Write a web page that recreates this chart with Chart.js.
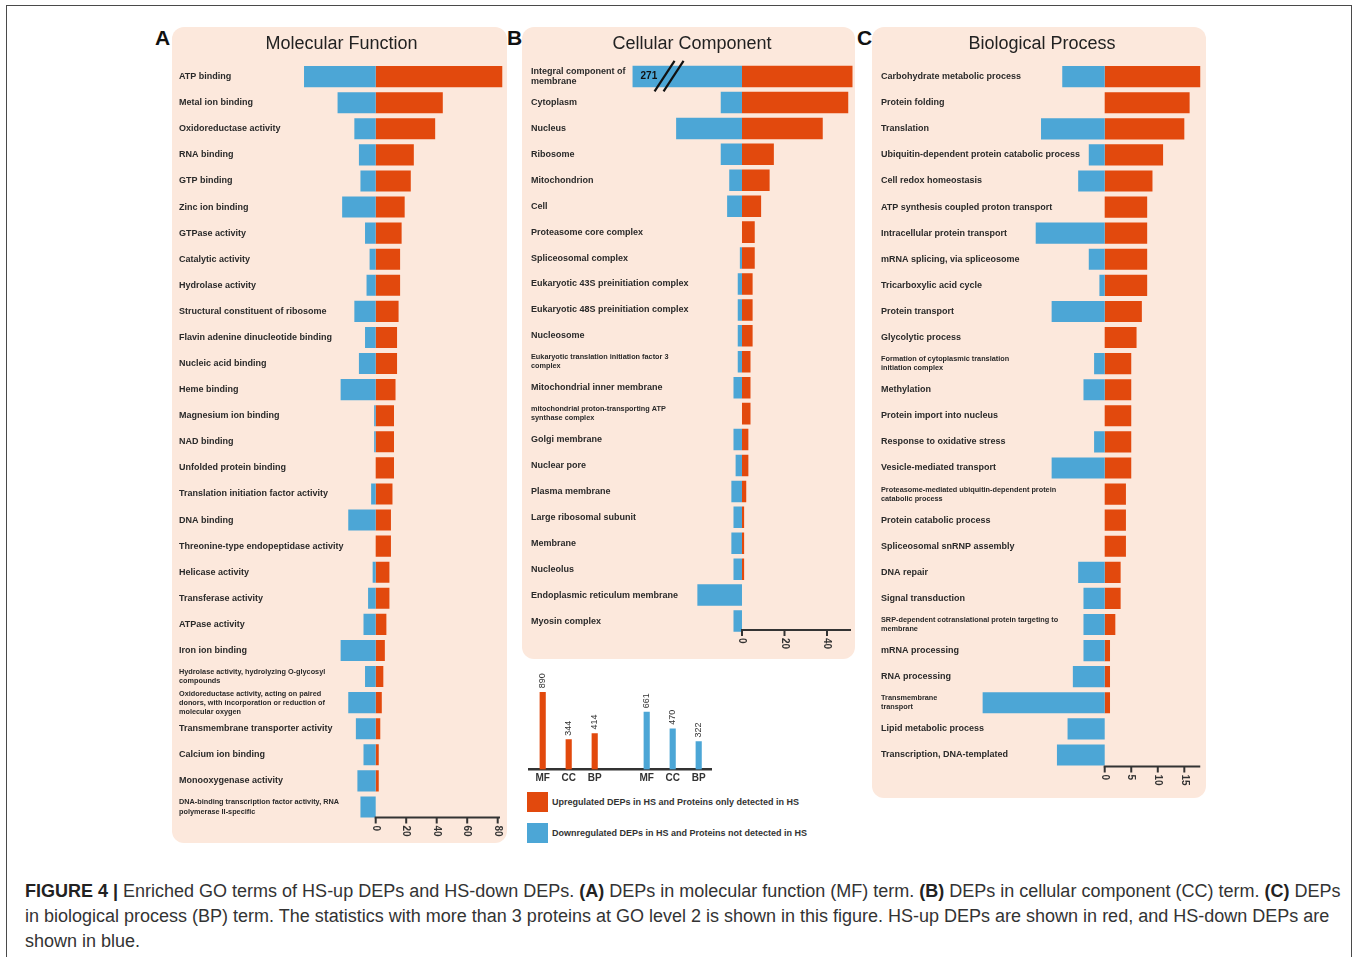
<!DOCTYPE html>
<html>
<head>
<meta charset="utf-8">
<title>Enriched GO terms of HS-up and HS-down DEPs</title>
<script src="https://cdn.jsdelivr.net/npm/chart.js@4/dist/chart.umd.min.js"></script>
<style>
  html, body { margin:0; padding:0; background:#fff; }
  body { position:relative; width:1357px; height:957px; overflow:hidden; font-family:"Liberation Sans", Arial, Helvetica, sans-serif; color:#333; }
  .frame { position:absolute; left:6px; top:5px; width:1346px; height:1000px; border:1.5px solid #4a4a4a; box-sizing:border-box; }
  .panel { position:absolute; background:#fce8dc; border-radius:12px; }
  .panel canvas { position:absolute; left:0; top:0; }
  .letter { position:absolute; font-size:21px; font-weight:bold; line-height:1; color:#111; }
  .legend-row { position:absolute; left:527px; height:20px; display:flex; align-items:center; font-size:9px; font-weight:bold; color:#333; white-space:nowrap; }
  .legend-row .sw { width:21px; height:20px; margin-right:4px; flex:none; }
  .caption { position:absolute; left:25px; font-size:18px; line-height:25px; color:#333; white-space:nowrap; }
  .caption b { color:#222; }
</style>
</head>
<body>
<div class="frame"></div>

<div class="letter" style="left:155px; top:27px;">A</div>
<div class="letter" style="left:507px; top:27px;">B</div>
<div class="letter" style="left:857px; top:27px;">C</div>

<div class="panel" style="left:172px; top:27px; width:335px; height:816px;">
  <canvas id="mfChart" width="335" height="816"></canvas>
</div>
<div class="panel" style="left:522px; top:27px; width:333px; height:632px;">
  <canvas id="ccChart" width="333" height="632"></canvas>
</div>
<div class="panel" style="left:872px; top:27px; width:334px; height:771px;">
  <canvas id="bpChart" width="334" height="771"></canvas>
</div>

<canvas id="totalsChart" width="200" height="125" style="position:absolute; left:520px; top:665px;"></canvas>

<div class="legend-row" style="top:792px;"><span class="sw" style="background:#e2490d;"></span>Upregulated DEPs in HS and Proteins only detected in HS</div>
<div class="legend-row" style="top:823px;"><span class="sw" style="background:#4ca6d6;"></span>Downregulated DEPs in HS and Proteins not detected in HS</div>

<div class="caption" style="top:879px;"><b>FIGURE 4 |</b> Enriched GO terms of HS-up DEPs and HS-down DEPs. <b>(A)</b> DEPs in molecular function (MF) term. <b>(B)</b> DEPs in cellular component (CC) term. <b>(C)</b> DEPs</div>
<div class="caption" style="top:904px;">in biological process (BP) term. The statistics with more than 3 proteins at GO level 2 is shown in this figure. HS-up DEPs are shown in red, and HS-down DEPs are</div>
<div class="caption" style="top:929px;">shown in blue.</div>

<script>
const RED = '#e2490d';
const BLUE = '#4ca6d6';
const FONT = '"Liberation Sans", Arial, Helvetica, sans-serif';
Chart.defaults.font.family = FONT;

// ---- Molecular function (MF) terms: counts of up- and down-regulated DEPs ----
const mfTerms = [
  'ATP binding', 'Metal ion binding', 'Oxidoreductase activity', 'RNA binding', 'GTP binding',
  'Zinc ion binding', 'GTPase activity', 'Catalytic activity', 'Hydrolase activity',
  'Structural constituent of ribosome', 'Flavin adenine dinucleotide binding', 'Nucleic acid binding',
  'Heme binding', 'Magnesium ion binding', 'NAD binding', 'Unfolded protein binding',
  'Translation initiation factor activity', 'DNA binding', 'Threonine-type endopeptidase activity',
  'Helicase activity', 'Transferase activity', 'ATPase activity', 'Iron ion binding',
  ['Hydrolase activity, hydrolyzing O-glycosyl', 'compounds'],
  ['Oxidoreductase activity, acting on paired', 'donors, with incorporation or reduction of', 'molecular oxygen'],
  'Transmembrane transporter activity', 'Calcium ion binding', 'Monooxygenase activity',
  ['DNA-binding transcription factor activity, RNA', 'polymerase II-specific']
];
const mfUp   = [83, 44, 39, 25, 23, 19, 17, 16, 16, 15, 14, 14, 13, 12, 12, 12, 11, 10, 10, 9, 9, 7, 6, 5, 4, 3, 2, 2, 0];
const mfDown = [47, 25, 14, 11, 10, 22, 7, 4, 6, 14, 7, 11, 23, 1, 1, 0, 3, 18, 0, 2, 5, 8, 23, 7, 18, 13, 8, 12, 10];
const mfTicks = [0, 20, 40, 60, 80];

// ---- Cellular component (CC) terms ----
const ccTerms = [
  ['Integral component of', 'membrane'], 'Cytoplasm', 'Nucleus', 'Ribosome', 'Mitochondrion', 'Cell',
  'Proteasome core complex', 'Spliceosomal complex', 'Eukaryotic 43S preinitiation complex',
  'Eukaryotic 48S preinitiation complex', 'Nucleosome',
  ['Eukaryotic translation initiation factor 3', 'complex'],
  'Mitochondrial inner membrane',
  ['mitochondrial proton-transporting ATP', 'synthase complex'],
  'Golgi membrane', 'Nuclear pore', 'Plasma membrane', 'Large ribosomal subunit', 'Membrane',
  'Nucleolus', 'Endoplasmic reticulum membrane', 'Myosin complex'
];
const ccUp   = [52, 50, 38, 15, 13, 9, 6, 6, 5, 5, 5, 4, 4, 4, 3, 3, 2, 1, 1, 1, 0, 0];
const ccDown = [271, 10, 31, 10, 6, 7, 0, 1, 2, 2, 2, 2, 4, 0, 4, 3, 5, 4, 5, 4, 21, 4];
const ccTicks = [0, 20, 40];
const ccBreakAt = 51.5;   // longer bars are cut here and marked with a break

// ---- Biological process (BP) terms ----
const bpTerms = [
  'Carbohydrate metabolic process', 'Protein folding', 'Translation',
  'Ubiquitin-dependent protein catabolic process', 'Cell redox homeostasis',
  'ATP synthesis coupled proton transport', 'Intracellular protein transport',
  'mRNA splicing, via spliceosome', 'Tricarboxylic acid cycle', 'Protein transport',
  'Glycolytic process', ['Formation of cytoplasmic translation', 'initiation complex'],
  'Methylation', 'Protein import into nucleus', 'Response to oxidative stress',
  'Vesicle-mediated transport',
  ['Proteasome-mediated ubiquitin-dependent protein', 'catabolic process'],
  'Protein catabolic process', 'Spliceosomal snRNP assembly', 'DNA repair', 'Signal transduction',
  ['SRP-dependent cotranslational protein targeting to', 'membrane'],
  'mRNA processing', 'RNA processing', ['Transmembrane', 'transport'],
  'Lipid metabolic process', 'Transcription, DNA-templated'
];
const bpUp   = [18, 16, 15, 11, 9, 8, 8, 8, 8, 7, 6, 5, 5, 5, 5, 5, 4, 4, 4, 3, 3, 2, 1, 1, 1, 0, 0];
const bpDown = [8, 0, 12, 3, 5, 0, 13, 3, 1, 10, 0, 2, 4, 0, 2, 10, 0, 0, 0, 5, 4, 4, 4, 6, 23, 7, 9];
const bpTicks = [0, 5, 10, 15];

// ---- Totals of enriched DEPs per ontology ----
const totalGroups = ['MF', 'CC', 'BP'];
const upTotals   = [890, 344, 414];
const downTotals = [661, 470, 322];

// Value axis drawn only on the positive side, with rotated tick labels
const valueAxisPlugin = {
  id: 'valueAxis',
  afterDraw(chart, args, opts) {
    const xs = chart.scales.x;
    const ctx = chart.ctx;
    const y0 = chart.chartArea.bottom - opts.offset;
    ctx.save();
    ctx.strokeStyle = '#333';
    ctx.lineWidth = 2;
    ctx.beginPath();
    ctx.moveTo(xs.getPixelForValue(0) - 1, y0);
    ctx.lineTo(xs.getPixelForValue(opts.end), y0);
    ctx.stroke();
    ctx.font = 'bold 10px ' + FONT;
    ctx.fillStyle = '#333';
    ctx.textAlign = 'left';
    ctx.textBaseline = 'middle';
    opts.ticks.forEach(v => {
      const x = xs.getPixelForValue(v);
      ctx.beginPath();
      ctx.moveTo(x, y0);
      ctx.lineTo(x, y0 + 6);
      ctx.stroke();
      ctx.save();
      ctx.translate(x, y0 + 8);
      ctx.rotate(Math.PI / 2);
      ctx.fillText(String(v), 0, 0);
      ctx.restore();
    });
    ctx.restore();
  }
};

// Break marks and value for a bar that runs past the axis
const axisBreakPlugin = {
  id: 'axisBreak',
  afterDatasetsDraw(chart, args, opts) {
    const el = chart.getDatasetMeta(0).data[opts.index];
    if (!el) return;
    const ctx = chart.ctx;
    const left = Math.min(el.x, el.base);
    const top = el.y - el.height / 2;
    const bottom = el.y + el.height / 2;
    ctx.save();
    ctx.fillStyle = '#111';
    ctx.font = 'bold 10px ' + FONT;
    ctx.textAlign = 'left';
    ctx.textBaseline = 'middle';
    ctx.fillText(String(opts.value), left + 8, el.y);
    ctx.strokeStyle = '#111';
    ctx.lineWidth = 2.2;
    [22, 31].forEach(dx => {
      ctx.beginPath();
      ctx.moveTo(left + dx, bottom + 4);
      ctx.lineTo(left + dx + 20, top - 5);
      ctx.stroke();
    });
    ctx.restore();
  }
};

function makeGoChart(id, cfg) {
  const smallFont = { family: FONT, size: 7.3, weight: 'bold', lineHeight: 1.25 };
  const labelFont = { family: FONT, size: 9, weight: 'bold', lineHeight: 1.2 };
  const plugins = [valueAxisPlugin].concat(cfg.extraPlugins || []);
  return new Chart(document.getElementById(id), {
    type: 'bar',
    data: {
      labels: cfg.terms,
      datasets: [
        { label: 'Down', data: cfg.down, backgroundColor: BLUE, borderWidth: 0 },
        { label: 'Up', data: cfg.up, backgroundColor: RED, borderWidth: 0 }
      ]
    },
    options: {
      indexAxis: 'y',
      responsive: false,
      animation: false,
      datasets: { bar: { barPercentage: cfg.barPct, categoryPercentage: 1 } },
      layout: { padding: cfg.pad },
      plugins: {
        legend: { display: false },
        tooltip: { enabled: false },
        title: {
          display: true, text: cfg.title, color: '#222',
          font: { family: FONT, size: 18, weight: 'normal' },
          padding: { top: 6, bottom: 9 }
        },
        valueAxis: cfg.axis,
        axisBreak: cfg.axisBreak || {}
      },
      scales: {
        x: { display: false, stacked: true, min: cfg.min, max: cfg.max },
        y: {
          stacked: true,
          grid: { display: false, drawTicks: false },
          border: { display: false },
          ticks: {
            mirror: true, padding: 0, autoSkip: false, color: '#2a2a2a',
            font: c => (cfg.small.includes(c.index) ? smallFont : labelFont)
          }
        }
      }
    },
    plugins
  });
}

makeGoChart('mfChart', {
  title: 'Molecular Function',
  terms: mfTerms, up: mfUp, down: mfDown.map(v => -v),
  min: -128.98, max: 84.13, barPct: 0.81,
  pad: { left: 7, right: 3, top: 0, bottom: 23 },
  small: [23, 24, 28],
  axis: { ticks: mfTicks, end: 81.5, offset: 2.5 }
});

makeGoChart('ccChart', {
  title: 'Cellular Component',
  terms: ccTerms, up: ccUp, down: ccDown.map(v => -Math.min(v, ccBreakAt)),
  min: -99.29, max: 52.24, barPct: 0.83,
  pad: { left: 9, right: 2, top: 0, bottom: 25 },
  small: [11, 13],
  axis: { ticks: ccTicks, end: 51.3, offset: 4 },
  axisBreak: { index: 0, value: ccDown[0] },
  extraPlugins: [axisBreakPlugin]
});

makeGoChart('bpChart', {
  title: 'Biological Process',
  terms: bpTerms, up: bpUp, down: bpDown.map(v => -v),
  min: -42.15, max: 18.52, barPct: 0.81,
  pad: { left: 9, right: 3, top: 0, bottom: 30 },
  small: [11, 16, 21, 24],
  axis: { ticks: bpTicks, end: 18, offset: 1.5 }
});

// Rotated count labels above the totals bars
const totalsLabelPlugin = {
  id: 'totalsLabels',
  afterDatasetsDraw(chart) {
    const ctx = chart.ctx;
    const ds = chart.data.datasets[0];
    ctx.save();
    ctx.font = '9px ' + FONT;
    ctx.fillStyle = '#333';
    ctx.textAlign = 'left';
    ctx.textBaseline = 'middle';
    chart.getDatasetMeta(0).data.forEach((el, i) => {
      const v = ds.data[i];
      if (v == null) return;
      ctx.save();
      ctx.translate(el.x, el.y - 4);
      ctx.rotate(-Math.PI / 2);
      ctx.fillText(String(v), 0, 0);
      ctx.restore();
    });
    ctx.restore();
  }
};

new Chart(document.getElementById('totalsChart'), {
  type: 'bar',
  data: {
    labels: [...totalGroups, '', ...totalGroups],
    datasets: [{
      data: [...upTotals, null, ...downTotals],
      backgroundColor: [RED, RED, RED, 'rgba(0,0,0,0)', BLUE, BLUE, BLUE],
      barThickness: 5.5,
      borderWidth: 0
    }]
  },
  options: {
    responsive: false,
    animation: false,
    layout: { padding: { left: 9.7, right: 8.3, top: 17.8, bottom: 2.5 } },
    plugins: { legend: { display: false }, tooltip: { enabled: false } },
    scales: {
      x: {
        grid: { display: false, drawTicks: false },
        border: { display: true, color: '#333', width: 2.5 },
        ticks: { color: '#333', padding: 3, maxRotation: 0, autoSkip: false,
                 font: { family: FONT, size: 10, weight: 'bold' } }
      },
      y: { display: false, min: 0, max: 1000 }
    }
  },
  plugins: [totalsLabelPlugin]
});
</script>
</body>
</html>
